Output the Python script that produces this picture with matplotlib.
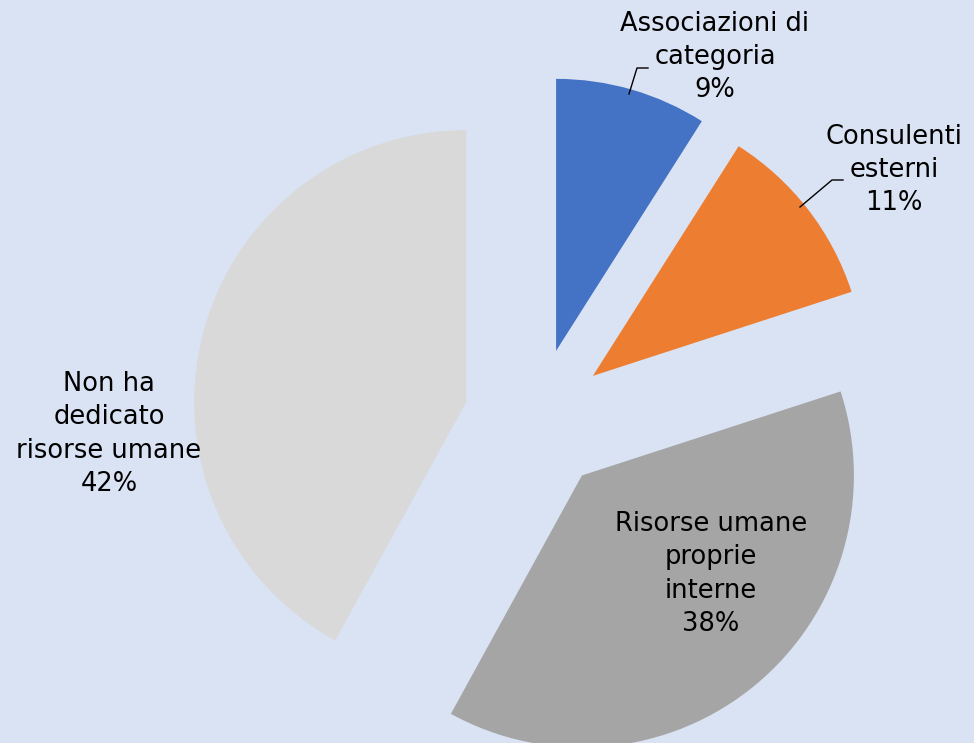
import numpy as np
import matplotlib.pyplot as plt

# data
categories = ["Associazioni di\ncategoria", "Consulenti\nesterni",
              "Risorse umane\nproprie\ninterne", "Non ha\ndedicato\nrisorse umane"]
shares = [9, 11, 38, 42]
colors = ["#4472C4", "#ED7D31", "#A5A5A5", "#D9D9D9"]
bg = "#DAE3F3"

W, H = 974, 743
R = 272.0          # pie radius in pixels
cx, cy = 536, 420  # pie centre in pixels (from top-left)

fig = plt.figure(figsize=(W / 100, H / 100), dpi=100, facecolor=bg)
ax = fig.add_axes([0, 0, 1, 1])
ax.set_facecolor(bg)
ax.axis("off")

ax.pie(shares, colors=colors, startangle=90, counterclock=False,
       explode=[72 / R] * 4, radius=1, center=(0, 0), frame=False,
       wedgeprops=dict(linewidth=0))
ax.set_xlim(-cx / R, (W - cx) / R)
ax.set_ylim(-(H - cy) / R, cy / R)
ax.set_aspect("auto")


def px(x, y):
    return ((x - cx) / R, (cy - y) / R)


# labels (pixel positions of label centres)
label_pos = [(715, 57), (894, 170), (711, 574), (109, 434)]
for name, val, (lx, ly) in zip(categories, shares, label_pos):
    ax.text(*px(lx, ly), f"{name}\n{val}%", ha="center", va="center",
            fontsize=18.5, linespacing=1.36, color="#000000",
            family="DejaVu Sans")

# leader lines
for pts in ([(629, 94), (637, 68), (648, 68)], [(800, 207), (832, 180), (843, 180)]):
    xy = np.array([px(*p) for p in pts])
    ax.plot(xy[:, 0], xy[:, 1], color="black", lw=1)

fig.savefig("out.png", dpi=100, facecolor=bg)
